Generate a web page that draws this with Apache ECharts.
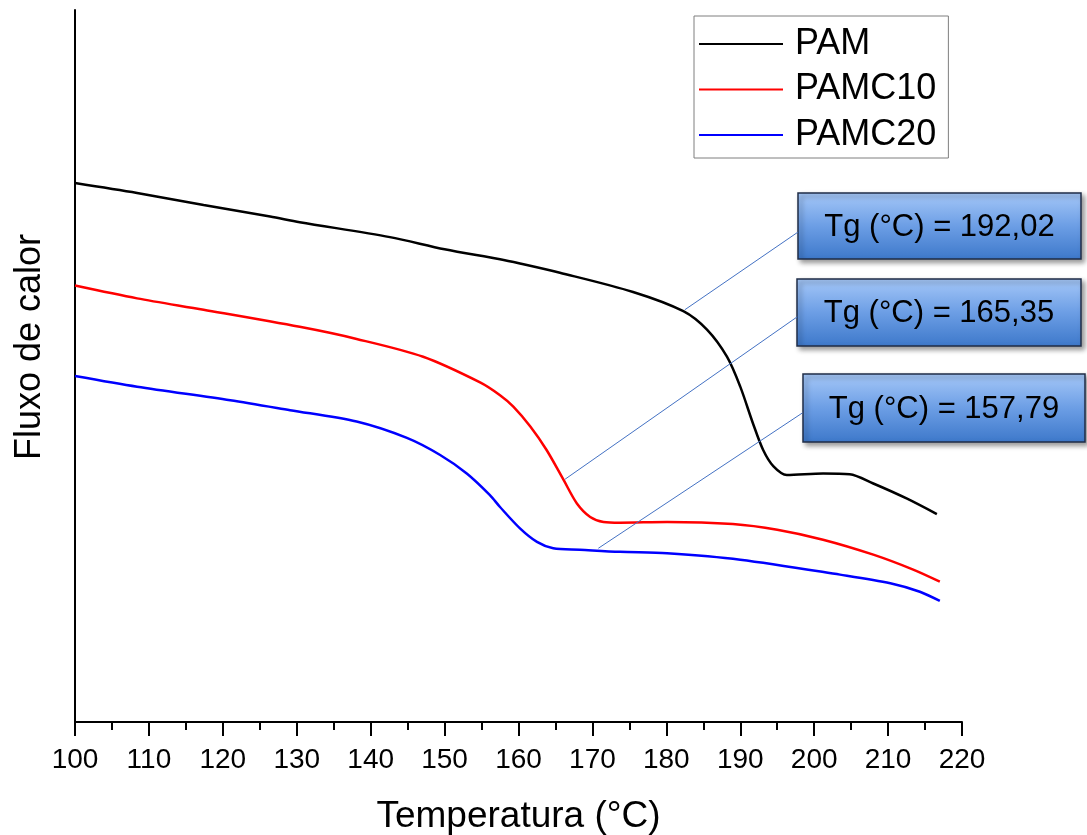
<!DOCTYPE html>
<html>
<head>
<meta charset="utf-8">
<script src="https://cdn.jsdelivr.net/npm/echarts@6/dist/echarts.min.js"></script>
<style>
html,body{margin:0;padding:0;background:#fff;}
#chart{width:1087px;height:835px;}
</style>
</head>
<body>
<div id="chart"></div>
<script>
// Temperature (°C) / heat flow (arbitrary units) pairs
const pamData = [
  [100.0,75.7],[108.4,74.3],[117.4,72.6],[126.4,71.0],[130.4,70.2],[142.6,68.1],
  [150.0,66.4],[157.5,65.0],[160.2,64.4],[165.6,63.1],[175.5,60.4],[182.3,57.7],
  [185.5,55.1],[188.2,51.3],[190.0,47.1],[191.7,42.0],[193.1,38.2],[194.5,35.9],
  [196.3,34.7],[201.2,34.9],[204.8,34.8],[208.0,33.5],[212.5,31.4],[216.6,29.2]
];
const pamc10Data = [
  [100.0,61.3],[108.4,59.5],[117.4,57.9],[130.4,55.5],[138.1,53.8],[147.1,51.3],
  [154.8,47.7],[157.5,45.9],[159.3,44.3],[161.6,41.5],[163.8,38.2],[166.1,34.0],
  [167.9,30.7],[169.7,28.8],[171.5,28.1],[173.7,28.0],[180.1,28.1],[189.0,27.8],
  [195.0,27.0],[201.2,25.6],[208.0,23.5],[213.4,21.4],[217.0,19.7]
];
const pamc20Data = [
  [100.0,48.6],[108.4,47.1],[121.0,45.2],[129.1,43.8],[138.1,42.2],[144.9,39.9],
  [149.4,37.5],[153.0,34.9],[156.1,31.9],[157.5,30.2],[160.2,27.2],[162.5,25.3],
  [164.7,24.4],[168.3,24.2],[173.7,23.9],[180.1,23.7],[190.0,22.8],[203.5,20.7],
  [210.3,19.5],[214.3,18.3],[217.0,17.0]
];
const seriesNames = ['PAM','PAMC10','PAMC20'];
const seriesColors = ['#000000','#ff0000','#0000ff'];
const tgLabels = ['Tg (°C) = 192,02','Tg (°C) = 165,35','Tg (°C) = 157,79'];
// leader lines: point on the curve -> box edge (data units)
const tgLinkStart = [[182.5,57.9],[166.3,34.1],[170.8,24.4]];
const tgLinkEnd = [[197.8,68.8],[197.7,56.9],[198.4,43.4]];
const xTicks = {min:100, max:220, interval:10};

const FONT = 'Arial, "Liberation Sans", sans-serif';
const chart = echarts.init(document.getElementById('chart'), null, {renderer:'canvas'});

const datasets = [pamData, pamc10Data, pamc20Data];
const series = datasets.map((d,i)=>({
  name: seriesNames[i],
  type: 'line',
  data: d,
  showSymbol: false,
  symbol: 'none',
  smooth: 0.3,
  lineStyle: {color: seriesColors[i], width: 2.5},
  itemStyle: {color: seriesColors[i]},
  z: 3,
  markLine: {
    silent: true,
    symbol: ['none','none'],
    animation: false,
    label: {show:false},
    lineStyle: {color:'#4472C4', width:1, type:'solid'},
    emphasis: {disabled:true},
    data: [[{coord: tgLinkStart[i]}, {coord: tgLinkEnd[i]}]]
  }
}));

const boxes = [
  {x:798, y:193, w:283, h:66},
  {x:797, y:279, w:284, h:67},
  {x:803, y:374, w:282, h:68}
];
const graphics = boxes.map((b,i)=>({
  type:'group',
  x:b.x, y:b.y, z:100,
  children:[
    {type:'rect', shape:{x:0,y:0,width:b.w,height:b.h},
     style:{
       fill: new echarts.graphic.LinearGradient(0,0,0,1,[
         {offset:0,color:'#A6C8F8'},{offset:0.5,color:'#6C9EE5'},{offset:1,color:'#3D78CA'}]),
       stroke:'#1F2D47', lineWidth:1.5,
       shadowColor:'rgba(0,0,0,0.4)', shadowBlur:5, shadowOffsetX:3, shadowOffsetY:3
     }},
    {type:'text', style:{text:tgLabels[i], x:b.w/2, y:b.h/2+1, align:'center', verticalAlign:'middle',
      font:'31px ' + FONT, fill:'#000'}}
  ]
}));
graphics.push({
  type:'text', x:30, y:347, rotation:Math.PI/2, z:100,
  style:{text:'Fluxo de calor', align:'center', verticalAlign:'middle', font:'36px ' + FONT, fill:'#000'}
});

chart.setOption({
  animation:false,
  backgroundColor:'#fff',
  grid:{left:75, right:125, top:10, bottom:113, containLabel:false, outerBoundsMode:'none'},
  legend:{
    data: seriesNames,
    orient:'vertical',
    left:694, top:16,
    icon:'rect',
    itemWidth:84, itemHeight:2,
    itemGap:9.5,
    padding:[10,12,5,5],
    borderColor:'#7f7f7f', borderWidth:1,
    backgroundColor:'#fff',
    selectedMode:false,
    textStyle:{fontFamily:FONT, fontSize:36, color:'#000', lineHeight:36, padding:[0,0,0,7]}
  },
  xAxis:{
    type:'value',
    min:xTicks.min, max:xTicks.max, interval:xTicks.interval,
    name:'Temperatura (°C)',
    nameLocation:'middle', nameGap:76,
    nameTextStyle:{fontFamily:FONT, fontSize:37, color:'#000'},
    axisLine:{show:true, onZero:false, lineStyle:{color:'#000', width:2}},
    axisTick:{show:true, length:14, lineStyle:{color:'#000', width:2}},
    minorTick:{show:true, splitNumber:2, length:8, lineStyle:{color:'#000', width:2}},
    splitLine:{show:false},
    axisLabel:{fontFamily:FONT, fontSize:28, color:'#000', margin:24}
  },
  yAxis:{
    type:'value', min:0, max:100,
    axisLine:{show:true, onZero:false, lineStyle:{color:'#000', width:2}},
    axisTick:{show:false},
    axisLabel:{show:false},
    splitLine:{show:false}
  },
  series: series,
  graphic: graphics
});
</script>
</body>
</html>
